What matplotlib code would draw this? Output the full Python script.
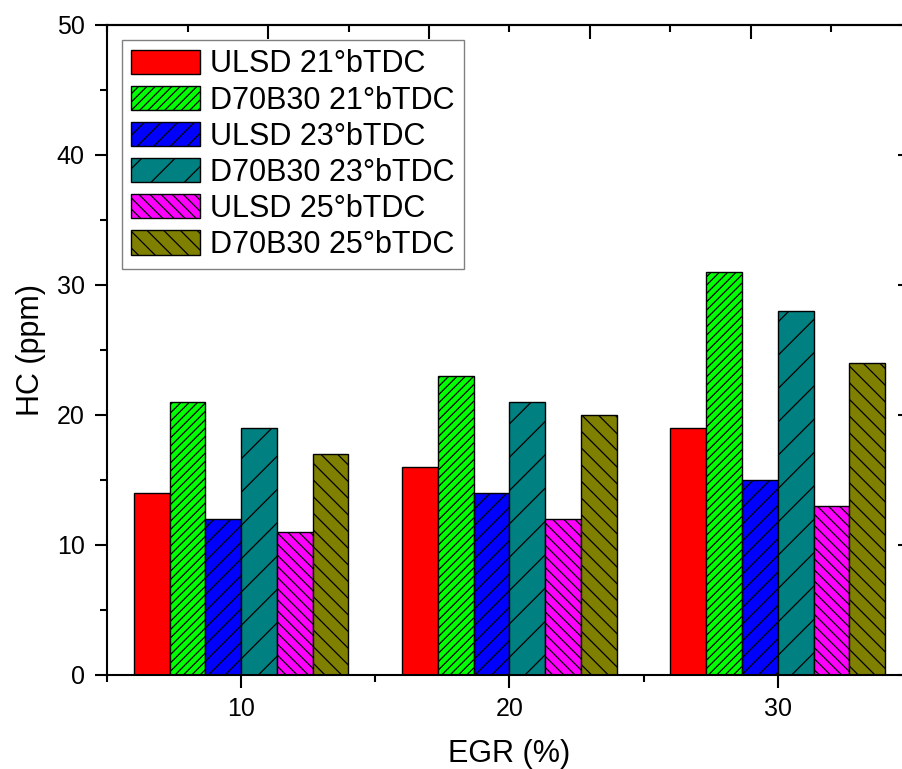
import matplotlib
matplotlib.use("Agg")
import matplotlib.pyplot as plt
import numpy as np
from matplotlib.ticker import FixedLocator, MultipleLocator

plt.rcParams['font.family'] = ['Liberation Sans', 'DejaVu Sans']
plt.rcParams['hatch.linewidth'] = 0.9

egr = [10, 20, 30]
series_names = ["ULSD 21°bTDC", "D70B30 21°bTDC", "ULSD 23°bTDC",
                "D70B30 23°bTDC", "ULSD 25°bTDC", "D70B30 25°bTDC"]
values = [
    [14, 16, 19],
    [21, 23, 31],
    [12, 14, 15],
    [19, 21, 28],
    [11, 12, 13],
    [17, 20, 24],
]
colors = ["#FF0000", "#00FF00", "#0000FF", "#008080", "#FF00FF", "#808000"]
hatches = [None, "////", "//", "/", "\\\\\\", "\\\\"]

fig = plt.figure(figsize=(9.02, 7.69), dpi=100)
ax = fig.add_axes([107/902, 1-675/769, (912-107)/902, (675-25)/769])

group_w = 8.0
n = len(series_names)
bw = group_w / n
x = np.array(egr, dtype=float)
for i in range(n):
    offs = -group_w/2 + bw*(i+0.5)
    ax.bar(x + offs, values[i], width=bw, color=colors[i], edgecolor='black',
           linewidth=1.0, hatch=hatches[i], label=series_names[i])

ax.set_xlim(5, 35)
ax.set_ylim(0, 50)
ax.set_xticks([10, 20, 30])
ax.xaxis.set_minor_locator(FixedLocator([5, 15, 25, 35]))
ax.yaxis.set_major_locator(MultipleLocator(10))
ax.yaxis.set_minor_locator(MultipleLocator(5))

for s in ax.spines.values():
    s.set_linewidth(1.5)

ax.tick_params(axis='both', which='major', direction='out', length=9, width=1.5,
               labelsize=18, pad=7)
ax.tick_params(axis='both', which='minor', direction='out', length=5, width=1.5)

axr = ax.secondary_yaxis('right')
axr.set_yticks([0, 10, 20, 30, 40, 50])
axr.yaxis.set_minor_locator(MultipleLocator(5))
axr.tick_params(which='major', direction='in', length=10, width=1.5, labelright=False)
axr.tick_params(which='minor', direction='in', length=5, width=1.5)
ax.tick_params(axis='y', which='both', right=False)

axt = ax.secondary_xaxis('top')
axt.set_xticks([11, 17, 23, 29, 35])
axt.xaxis.set_minor_locator(FixedLocator([5, 8, 14, 20, 26, 32]))
axt.tick_params(which='major', direction='in', length=10, width=1.5, labeltop=False)
axt.tick_params(which='minor', direction='in', length=5, width=1.5)
axt.spines['top'].set_linewidth(1.5)
axr.spines['right'].set_linewidth(1.5)

ax.set_xlabel("EGR (%)", fontsize=22, labelpad=13)
ax.set_ylabel("HC (ppm)", fontsize=22, labelpad=8)

leg = ax.legend(loc='upper left', fontsize=22, frameon=True, fancybox=False,
                edgecolor='#808080', framealpha=1, borderpad=0.3,
                labelspacing=0.2, handlelength=2.25, handleheight=0.85,
                handletextpad=0.33, borderaxespad=0.5)
leg.get_frame().set_linewidth(1.0)

fig.savefig("out.png", dpi=100)
